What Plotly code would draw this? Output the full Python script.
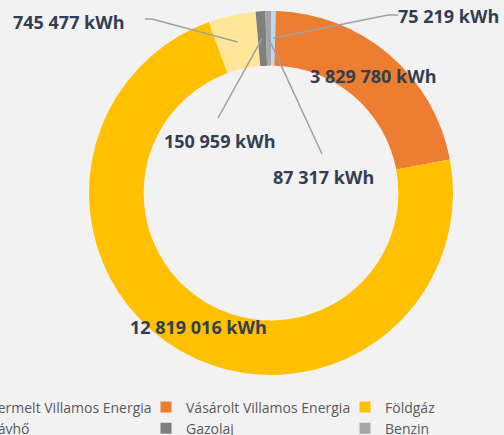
import math
import plotly.graph_objects as go

labels = ["Termelt Villamos Energia", "Vásárolt Villamos Energia", "Földgáz",
          "Távhő", "Gazolaj", "Benzin"]
values = [75219, 3829780, 12819016, 745477, 150959, 87317]
value_text = ["75 219 kWh", "3 829 780 kWh", "12 819 016 kWh",
              "745 477 kWh", "150 959 kWh", "87 317 kWh"]
colors = ["#BDD7EE", "#ED7D31", "#FFC000", "#FFE699", "#7F7F7F", "#A5A5A5"]

W, H = 504, 435
CX, CY, R = 271, 193, 182
HOLE = 0.70

fig = go.Figure(go.Pie(
    labels=labels, values=values, sort=False, direction="clockwise", rotation=0,
    hole=HOLE, textinfo="none", hoverinfo="label+value", showlegend=False,
    marker=dict(colors=colors, line=dict(width=0)),
    domain=dict(x=[(CX - R) / W, (CX + R) / W],
                y=[(H - CY - R) / H, (H - CY + R) / H]),
))

# legend entries (3 columns x 2 rows, like the original)
legend_names = ["legend", "legend2", "legend3"]
for i, (lab, col) in enumerate(zip(labels, colors)):
    fig.add_trace(go.Scatter(
        x=[None], y=[None], mode="markers", name=lab,
        marker=dict(symbol="square", size=11, color=col),
        legend=legend_names[i % 3], showlegend=True, hoverinfo="skip",
    ))

# slice mid-points (from data) on the middle of the ring
total = sum(values)
mid_r = R * (1 + HOLE) / 2
anchors = []
cum = 0
for v in values:
    a = 2 * math.pi * (cum + v / 2) / total
    anchors.append((CX + mid_r * math.sin(a), CY - mid_r * math.cos(a)))
    cum += v

def px(x):
    return x / W

def py(y):
    return 1 - y / H

label_pos = {
    0: (448, 16, [(388, 15), (398, 15)]),
    1: (373, 76, None),
    2: (198, 327, None),
    3: (69, 22, [(152, 19), (145, 19)]),
    4: (220, 141, [(218, 118)]),
    5: (323, 177, [(322, 154)]),
}

shapes = []
annotations = []
for i, (tx, ty, pts) in label_pos.items():
    annotations.append(dict(
        x=px(tx), y=py(ty), xref="paper", yref="paper", text=value_text[i],
        showarrow=False, xanchor="center", yanchor="middle",
        font=dict(family="Open Sans", size=18, color="#323F52", weight="bold"),
    ))
    if pts:
        ax, ay = anchors[i]
        path = f"M{px(ax)},{py(ay)}" + "".join(f" L{px(x)},{py(y)}" for x, y in pts)
        shapes.append(dict(type="path", xref="paper", yref="paper", path=path,
                           line=dict(color="#A0A0A0", width=1.5)))

leg_common = dict(orientation="v", yanchor="top", xanchor="left", y=1 - 391.5 / H,
                  font=dict(family="Open Sans", size=14, color="#595959"),
                  bgcolor="rgba(0,0,0,0)", itemsizing="trace", tracegroupgap=0)

fig.update_layout(
    width=W, height=H,
    margin=dict(l=0, r=0, t=0, b=0, autoexpand=False),
    paper_bgcolor="#F2F2F2",
    plot_bgcolor="#F2F2F2",
    showlegend=True,
    xaxis=dict(visible=False),
    yaxis=dict(visible=False),
    legend=dict(x=-50 / W, **leg_common),
    legend2=dict(x=146 / W, **leg_common),
    legend3=dict(x=345 / W, **leg_common),
    shapes=shapes,
    annotations=annotations,
)

fig.write_html("out.html", config={"displayModeBar": False},
               post_script="document.body.style.margin='0';document.body.style.overflow='hidden';")
